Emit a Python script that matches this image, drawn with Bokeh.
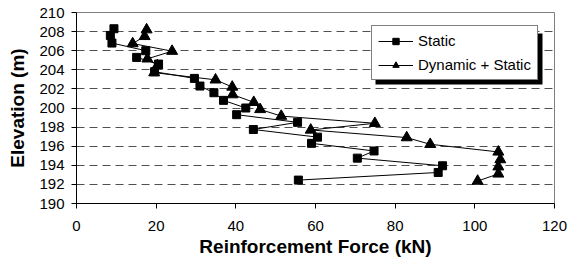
from bokeh.plotting import figure
from bokeh.models import Range1d, FixedTicker, Legend, LegendItem, BoxAnnotation
from bokeh.embed import file_html
from bokeh.resources import INLINE

# Data
static_force = [9.4, 8.5, 8.9, 17.4, 15.1, 20.6, 19.6, 29.6, 31.0, 34.5, 36.9,
                42.5, 40.2, 55.5, 44.4, 60.5, 59.0, 74.7, 70.5, 91.9, 90.8, 55.7]
static_elev = [208.3, 207.6, 206.8, 206.0, 205.3, 204.6, 203.8, 203.1, 202.3, 201.6, 200.8,
               200.0, 199.3, 198.5, 197.75, 196.95, 196.3, 195.5, 194.75, 193.95, 193.25, 192.45]

dyn_force = [17.6, 17.1, 14.1, 24.0, 17.8, 20.3, 19.5, 34.9, 39.1, 39.2, 44.5,
             46.1, 51.4, 74.9, 58.8, 82.9, 88.8, 105.9, 106.4, 105.9, 105.9, 100.7]
dyn_elev = [208.2, 207.5, 206.75, 205.95, 205.15, 204.45, 203.7, 202.95, 202.2, 201.4, 200.6,
            199.85, 199.15, 198.4, 197.7, 196.9, 196.2, 195.4, 194.6, 193.85, 193.1, 192.35]

x_ticks = [0, 20, 40, 60, 80, 100, 120]
y_ticks = [190, 192, 194, 196, 198, 200, 202, 204, 206, 208, 210]

FONT = "Liberation Sans"

p = figure(width=567, height=263, output_backend="svg", toolbar_location=None,
           x_range=Range1d(0, 120), y_range=Range1d(190, 210),
           min_border_left=76, min_border_right=13, min_border_top=12, min_border_bottom=60)
p.background_fill_color = "white"
p.border_fill_color = "white"
p.outline_line_color = "#808080"
p.outline_line_width = 1

# axes
for ax in (p.xaxis[0], p.yaxis[0]):
    ax.axis_line_color = "black"
    ax.axis_line_width = 1
    ax.major_tick_line_color = "black"
    ax.major_tick_out = 5
    ax.major_tick_in = 0
    ax.minor_tick_line_color = None
    ax.major_label_text_font = FONT
    ax.major_label_text_font_size = "15px"
    ax.major_label_text_color = "black"
    ax.axis_label_text_font = FONT
    ax.axis_label_text_font_style = "bold"
    ax.axis_label_text_font_size = "19px"
    ax.axis_label_text_color = "black"

p.xaxis.ticker = FixedTicker(ticks=x_ticks)
p.yaxis.ticker = FixedTicker(ticks=y_ticks)
p.xaxis.axis_label = "Reinforcement Force (kN)"
p.yaxis.axis_label = "Elevation (m)"
p.xaxis.major_label_standoff = 12
p.yaxis.major_label_standoff = 7
p.xaxis.axis_label_standoff = 2
p.yaxis.axis_label_standoff = 8

p.xgrid.grid_line_color = None
p.ygrid.ticker = FixedTicker(ticks=y_ticks[1:-1])
p.ygrid.grid_line_color = "#505050"
p.ygrid.grid_line_dash = "8 5"
p.ygrid.grid_line_width = 1

# series (dynamic first so static squares sit on top)
l2 = p.line(dyn_force, dyn_elev, line_color="black", line_width=1)
m2 = p.scatter(dyn_force, dyn_elev, marker="triangle", size=11,
               fill_color="black", line_color="black")
l1 = p.line(static_force, static_elev, line_color="black", line_width=1)
m1 = p.scatter(static_force, static_elev, marker="square", size=8,
               fill_color="black", line_color="black")

# legend shadow (black offset box behind the legend)
px_per_kn = 478 / 120.0
px_per_m = 191 / 20.0
leg_x, leg_y, leg_w, leg_h = 295, 123, 167, 51
shadow = BoxAnnotation(left=(leg_x + 4) / px_per_kn,
                       right=(leg_x + leg_w + 4) / px_per_kn,
                       bottom=190 + (leg_y - 4) / px_per_m,
                       top=190 + (leg_y + leg_h - 4) / px_per_m,
                       fill_color="black", fill_alpha=1, line_color=None)
p.add_layout(shadow)

legend = Legend(items=[LegendItem(label="Static", renderers=[l1, m1]),
                       LegendItem(label="Dynamic + Static", renderers=[l2, m2])],
                location=(leg_x, leg_y))
legend.border_line_color = "black"
legend.border_line_width = 1
legend.background_fill_color = "white"
legend.background_fill_alpha = 1
legend.label_text_font = FONT
legend.label_text_font_size = "15px"
legend.label_text_color = "black"
legend.glyph_width = 35
legend.glyph_height = 16
legend.label_height = 16
legend.label_standoff = 5
legend.spacing = 7
legend.padding = 6
legend.margin = 0
p.add_layout(legend)

open("out.html", "w").write(file_html(p, INLINE))
